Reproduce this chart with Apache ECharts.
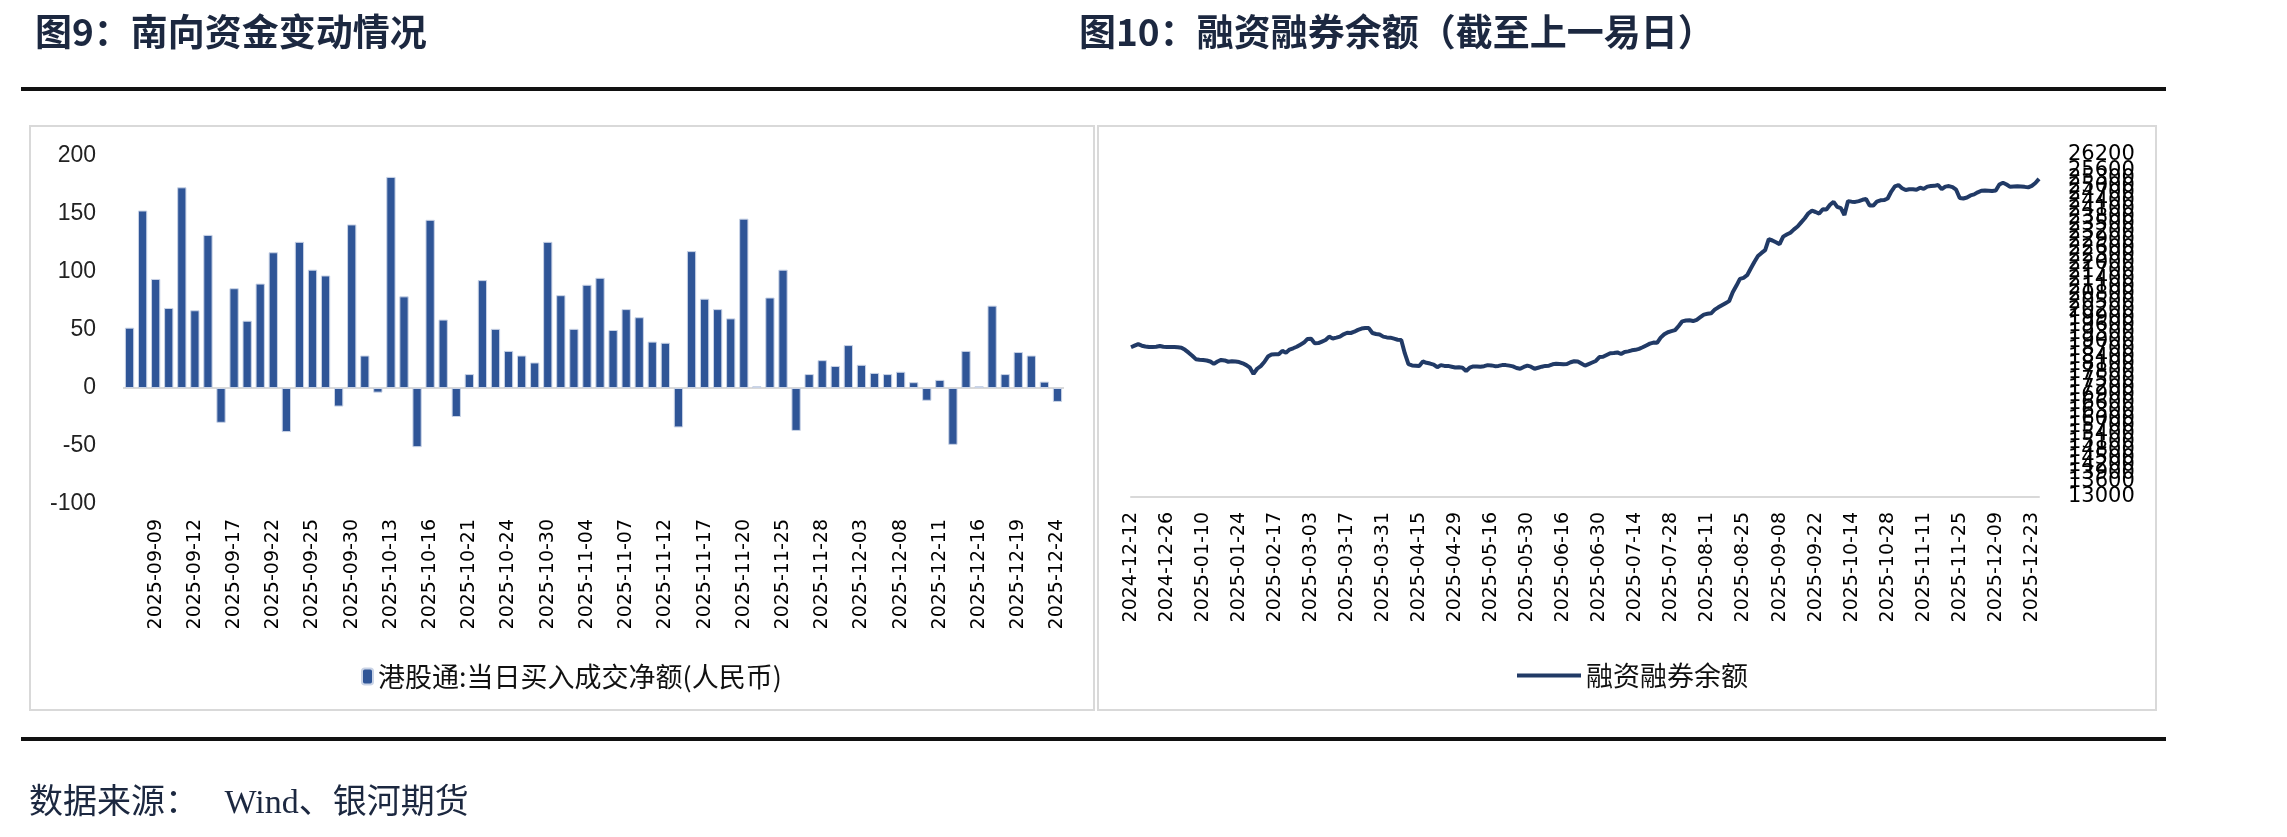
<!DOCTYPE html>
<html><head><meta charset="utf-8">
<script src="https://cdn.jsdelivr.net/npm/echarts@6/dist/echarts.min.js"></script>
<style>html,body{margin:0;padding:0;background:#fff}#c{width:2287px;height:837px}</style>
</head><body><div id="c"></div>
<script>
// ---- Figure 9: southbound daily net buy (HK dates) ----
const sbDates = ['2025-09-05','2025-09-08','2025-09-09','2025-09-10','2025-09-11','2025-09-12','2025-09-15','2025-09-16','2025-09-17','2025-09-18','2025-09-19','2025-09-22','2025-09-23','2025-09-24','2025-09-25','2025-09-26','2025-09-29','2025-09-30','2025-10-09','2025-10-10','2025-10-13','2025-10-14','2025-10-15','2025-10-16','2025-10-17','2025-10-20','2025-10-21','2025-10-22','2025-10-23','2025-10-24','2025-10-27','2025-10-28','2025-10-30','2025-10-31','2025-11-03','2025-11-04','2025-11-05','2025-11-06','2025-11-07','2025-11-10','2025-11-11','2025-11-12','2025-11-13','2025-11-14','2025-11-17','2025-11-18','2025-11-19','2025-11-20','2025-11-21','2025-11-24','2025-11-25','2025-11-26','2025-11-27','2025-11-28','2025-12-01','2025-12-02','2025-12-03','2025-12-04','2025-12-05','2025-12-08','2025-12-09','2025-12-10','2025-12-11','2025-12-12','2025-12-15','2025-12-16','2025-12-17','2025-12-18','2025-12-19','2025-12-22','2025-12-23','2025-12-24'];
const sbValues = [52,153,94,69,173,67,132,-30,86,58,90,117,-38,126,102,97,-16,141,28,-4,182,79,-51,145,59,-25,12,93,51,32,28,22,126,80,51,89,95,50,68,61,40,39,-34,118,77,68,60,146,1.5,78,102,-37,12,24,19,37,20,13,12,14,5,-11,7,-49,32,1.5,71,12,31,28,5.5,-12];
const sbName = '港股通:当日买入成交净额(人民币)';
const sbTicks = {min:-100, max:200, interval:50};

// ---- Figure 10: margin balance (A-share trading days) ----
const mgHolidays = ['2025-01-01','2025-01-28','2025-01-29','2025-01-30','2025-01-31','2025-02-03','2025-02-04','2025-04-04','2025-05-01','2025-05-02','2025-05-05','2025-06-02','2025-10-01','2025-10-02','2025-10-03','2025-10-06','2025-10-07','2025-10-08'];
const mgStart = '2024-12-12', mgEnd = '2025-12-25';
const mgValues = [
18780,18840,18900,18840,18810,18790,18790,18800,18830,18800,
18790,18790,18790,18780,18760,18680,18570,18450,18320,18300,
18290,18270,18230,18140,18230,18290,18270,18220,18240,18230,
18210,18160,18090,17990,17750,17950,18050,18210,18420,18500,
18510,18510,18640,18570,18690,18740,18800,18880,18960,19100,
19110,18930,18940,19000,19060,19190,19120,19150,19190,19280,
19340,19330,19380,19450,19500,19520,19520,19330,19290,19270,
19190,19160,19150,19110,19070,19060,18540,18130,18080,18070,
18060,18230,18180,18150,18110,18010,18090,18060,18060,18030,
18000,18010,17990,17860,17990,18040,18040,18030,18050,18090,
18080,18050,18060,18090,18090,18070,18040,17980,17950,18020,
18070,18030,17950,17990,18030,18060,18070,18120,18140,18130,
18120,18130,18200,18240,18230,18150,18070,18130,18190,18250,
18400,18410,18480,18550,18560,18580,18520,18600,18620,18660,
18680,18720,18780,18850,18920,18960,18950,19150,19280,19360,
19400,19440,19600,19780,19810,19820,19790,19840,19940,20040,
20070,20090,20230,20320,20400,20480,20560,20900,21150,21420,
21460,21560,21820,22070,22300,22420,22530,22950,22900,22830,
22760,23050,23130,23200,23330,23440,23600,23760,23950,24050,
24000,23940,24110,24100,24280,24390,24200,24150,23880,24420,
24400,24390,24420,24470,24500,24250,24250,24400,24450,24460,
24520,24790,24990,25040,24920,24850,24880,24880,24860,24940,
24890,24980,25000,25010,25040,24880,24980,25000,24960,24860,
24540,24520,24560,24640,24680,24760,24820,24830,24820,24810,
24830,25060,25130,25060,24970,24980,24990,24980,24970,24950,
25010,25120,25280];
const mgName = '融资融券余额';
const mgTicks = {min:13000, max:26200, interval:300};

// trading-day category list (weekdays minus exchange holidays)
function tradingDays(start, end, hol){
  const out=[]; const d=new Date(start+'T00:00:00Z'); const e=new Date(end+'T00:00:00Z');
  while(d<=e){ const w=d.getUTCDay(); const s=d.toISOString().slice(0,10);
    if(w!==0&&w!==6&&hol.indexOf(s)<0) out.push(s); d.setUTCDate(d.getUTCDate()+1);} return out;
}
const mgDates = tradingDays(mgStart, mgEnd, mgHolidays);

const titleColor = '#1c2840';
const chart = echarts.init(document.getElementById('c'), null, {renderer:'canvas'});
const xLabel = {rotate:90, fontSize:19, fontFamily:'DejaVu Sans', color:'#000', margin:15};
chart.setOption({
  animation:false,
  backgroundColor:'#fff',
  title:[
    {text:'图9：南向资金变动情况', left:30, top:8, textStyle:{fontSize:37, fontWeight:'bold', fontFamily:'Noto Sans CJK SC', color:titleColor}},
    {text:'图10：融资融券余额（截至上一易日）', left:1074, top:8, textStyle:{fontSize:37, fontWeight:'bold', fontFamily:'Noto Sans CJK SC', color:titleColor}},
    {text:'数据来源：   Wind、银河期货', left:24, top:782, textStyle:{fontSize:34, fontWeight:'normal', fontFamily:'Liberation Serif, Noto Sans CJK SC', color:titleColor}}
  ],
  graphic:[
    {type:'line', shape:{x1:21,y1:89,x2:2166,y2:89}, style:{stroke:'#111', lineWidth:4}, silent:true},
    {type:'line', shape:{x1:21,y1:739,x2:2166,y2:739}, style:{stroke:'#111', lineWidth:4}, silent:true},
    {type:'rect', shape:{x:30,y:126,width:1064,height:584}, style:{fill:'none', stroke:'#d9d9d9', lineWidth:2}, silent:true, z:-10},
    {type:'rect', shape:{x:1098,y:126,width:1058,height:584}, style:{fill:'none', stroke:'#d9d9d9', lineWidth:2}, silent:true, z:-10}
  ],
  legend:[
    {data:[sbName], left:356, top:658, itemWidth:11, itemHeight:16, textStyle:{fontSize:27, fontFamily:'Noto Sans CJK SC', color:'#111'}},
    {data:[{name:mgName, icon:'rect'}], left:1512, top:657, itemWidth:64, itemHeight:4, textStyle:{fontSize:27, fontFamily:'Noto Sans CJK SC', color:'#111'}}
  ],
  grid:[
    {left:123, right:1223, top:156, bottom:333, containLabel:false},
    {left:1131, right:248, top:155, bottom:340, containLabel:false}
  ],
  xAxis:[
    {gridIndex:0, type:'category', data:sbDates, boundaryGap:true,
     axisLine:{show:false, onZero:false}, axisTick:{show:false},
     axisLabel:Object.assign({}, xLabel, {interval:function(i){return i%3===2;}})},
    {gridIndex:1, type:'category', data:mgDates, boundaryGap:false,
     axisLine:{show:true, onZero:false, lineStyle:{color:'#d9d9d9', width:2}}, axisTick:{show:false},
     axisLabel:Object.assign({}, xLabel, {interval:9})}
  ],
  yAxis:[
    {gridIndex:0, type:'value', min:sbTicks.min, max:sbTicks.max, interval:sbTicks.interval,
     splitLine:{show:false}, axisLine:{show:false}, axisTick:{show:false},
     axisLabel:{fontSize:23, fontFamily:'Liberation Sans', color:'#222', margin:27, showMinLabel:true, showMaxLabel:true}},
    {gridIndex:1, type:'value', position:'right', min:mgTicks.min, max:mgTicks.max, interval:mgTicks.interval,
     splitLine:{show:false}, axisLine:{show:false}, axisTick:{show:false},
     axisLabel:{fontSize:21, fontFamily:'DejaVu Sans', color:'#000', margin:29, hideOverlap:false,
       showMinLabel:true, showMaxLabel:true, formatter:function(v){return String(v);}}}
  ],
  series:[
    {name:sbName, type:'bar', xAxisIndex:0, yAxisIndex:0, data:sbValues, barWidth:'71%',
     itemStyle:{color:'#2f5597', borderColor:'#c9d3e6', borderWidth:1},
     markLine:{silent:true, symbol:'none', label:{show:false}, data:[{yAxis:0}],
       lineStyle:{color:'#d9d9d9', width:2, type:'solid'}, z:1}},
    {name:mgName, type:'line', xAxisIndex:1, yAxisIndex:1, data:mgValues, symbol:'none', showSymbol:false,
     lineStyle:{color:'#213a66', width:4}, itemStyle:{color:'#213a66'}}
  ]
});
</script></body></html>
